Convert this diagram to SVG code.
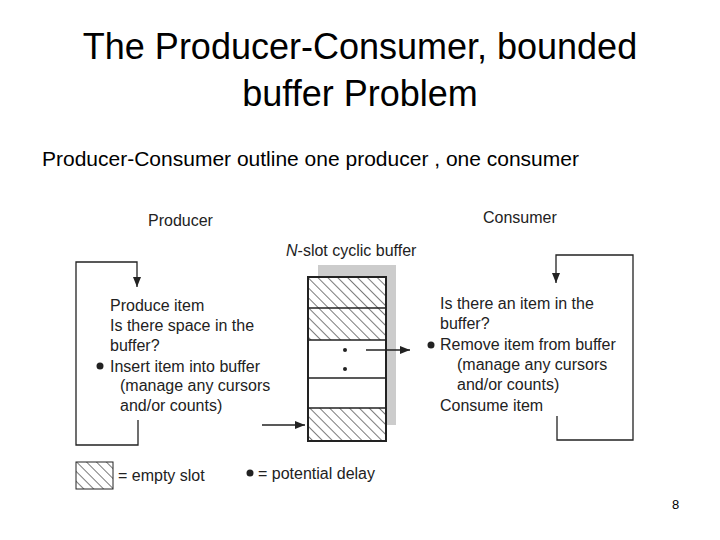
<svg xmlns="http://www.w3.org/2000/svg" width="720" height="540" viewBox="0 0 720 540">
<style>
text{font-family:"Liberation Sans",Arial,sans-serif;fill:#000}
.t{font-size:36px}
.d{font-size:16px;fill:#222}
.l{fill:none;stroke:#222;stroke-width:1.3}
</style>
<defs>
<pattern id="h" width="7" height="7" patternUnits="userSpaceOnUse" patternTransform="rotate(-45)">
<rect width="7" height="7" fill="#fff"/><line x1="0" y1="0" x2="0" y2="7" stroke="#222" stroke-width="1.2"/>
</pattern>
<marker id="a" markerWidth="10" markerHeight="8" refX="10" refY="4" orient="auto" markerUnits="userSpaceOnUse"><path d="M0,0 L10,4 L0,8 Z" fill="#222"/></marker>
</defs>
<rect width="720" height="540" fill="#fff"/>
<text class="t" x="360" y="59" text-anchor="middle">The Producer-Consumer, bounded</text>
<text class="t" x="360" y="106" text-anchor="middle">buffer Problem</text>
<text x="42" y="166" font-size="21">Producer-Consumer outline one producer , one consumer</text>
<text x="672" y="509" font-size="13">8</text>
<g id="producer">
<text class="d" x="148" y="226">Producer</text>
<text class="d" x="110" y="311">Produce item</text>
<text class="d" x="110" y="331">Is there space in the</text>
<text class="d" x="110" y="351">buffer?</text>
<circle cx="100" cy="366" r="3.5" fill="#222"/>
<text class="d" x="110" y="372">Insert item into buffer</text>
<text class="d" x="120" y="391">(manage any cursors</text>
<text class="d" x="120" y="411">and/or counts)</text>
</g>
<g id="buffer">
<text class="d" x="286" y="256"><tspan font-style="italic">N</tspan>-slot cyclic buffer</text>
<rect x="318" y="265" width="78" height="160" fill="#ccc"/>
<rect x="308" y="277" width="78" height="164" fill="#fff" stroke="#222" stroke-width="2"/>
<rect x="308" y="277" width="78" height="63" fill="url(#h)"/>
<rect x="308" y="408" width="78" height="33" fill="url(#h)"/>
<rect x="308" y="277" width="78" height="164" fill="none" stroke="#222" stroke-width="2"/>
<g class="l"><line x1="308" y1="308" x2="386" y2="308"/><line x1="308" y1="340" x2="386" y2="340"/><line x1="308" y1="378" x2="386" y2="378"/><line x1="308" y1="408" x2="386" y2="408"/></g>
<circle cx="345" cy="350" r="2" fill="#222"/><circle cx="345" cy="369" r="2" fill="#222"/>
</g>
<g id="consumer">
<text class="d" x="483" y="223">Consumer</text>
<text class="d" x="440" y="309">Is there an item in the</text>
<text class="d" x="440" y="329">buffer?</text>
<circle cx="431" cy="345" r="3.5" fill="#222"/>
<text class="d" x="440" y="350">Remove item from buffer</text>
<text class="d" x="457" y="370">(manage any cursors</text>
<text class="d" x="457" y="390">and/or counts)</text>
<text class="d" x="440" y="411">Consume item</text>
</g>
<g id="legend">
<rect x="76" y="462" width="37" height="27" fill="url(#h)" stroke="#222"/>
<text class="d" x="118" y="481">= empty slot</text>
<circle cx="250" cy="473" r="3.5" fill="#222"/>
<text class="d" x="258" y="479">= potential delay</text>
</g>
<g id="connectors" class="l">
<polyline points="138,420 138,445 76,445 76,262 137,262 137,287" marker-end="url(#a)"/>
<line x1="262" y1="425" x2="305" y2="425" marker-end="url(#a)"/>
<line x1="366" y1="350" x2="410" y2="350" marker-end="url(#a)"/>
<polyline points="557,416 557,440 633,440 633,255 556,255 556,283" marker-end="url(#a)"/>
</g>
</svg>
